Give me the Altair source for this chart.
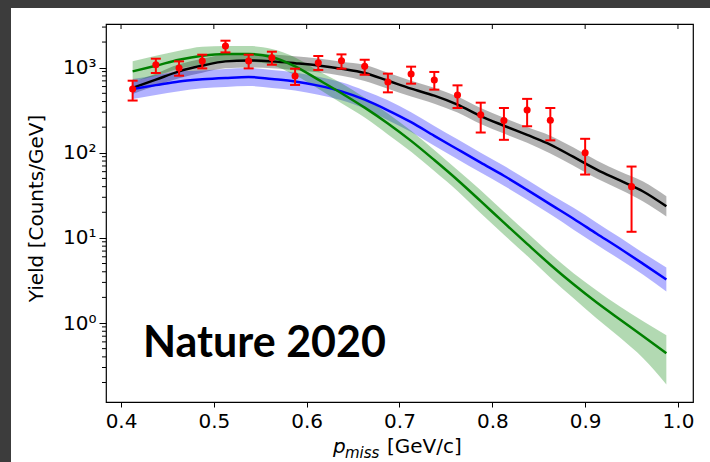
import altair as alt
import pandas as pd

# ---- measured data points (red) ----
x_data = [0.4125, 0.4375, 0.4625, 0.4875, 0.5125, 0.5375, 0.5625, 0.5875, 0.6125, 0.6375,
          0.6625, 0.6875, 0.7125, 0.7375, 0.7625, 0.7875, 0.8125, 0.8375, 0.8625, 0.9, 0.95]
y_data = [562, 1084, 992, 1199, 1798, 1199, 1310, 799, 1145, 1208,
          1036, 679, 844, 718, 478, 279, 239, 319, 241, 99.8, 40]
y_lo = [411, 866, 805, 981, 1513, 981, 1084, 627, 940, 973,
        828, 513, 649, 552, 336, 173, 142, 205, 140, 55.5, 11.8]
y_hi = [703, 1275, 1186, 1421, 2075, 1421, 1541, 973, 1372, 1433,
        1241, 851, 1028, 891, 620, 388, 336, 430, 336, 146, 68.9]

# ---- model curves ----
x_curve = [0.4125, 0.4375, 0.4625, 0.4875, 0.5125, 0.5375, 0.5625, 0.5875, 0.6125, 0.6375,
           0.6625, 0.6875, 0.7125, 0.7375, 0.7625, 0.7875, 0.8125, 0.8375, 0.8625, 0.8875,
           0.9125, 0.9375, 0.9625, 0.9875]
black_mid = [578, 723, 906, 1055, 1186, 1218, 1186, 1129, 1064, 973,
             867, 703, 567, 469, 368, 270, 208, 162, 125, 89.3,
             63.5, 47.3, 35.1, 23.5]
black_lo = [491, 615, 750, 873, 982, 1008, 982, 935, 881, 805,
            699, 566, 457, 378, 297, 218, 168, 131, 98, 70.6,
            49.8, 37.1, 26.8, 17.9]
black_hi = [680, 850, 1094, 1274, 1433, 1471, 1433, 1364, 1285, 1175,
            1076, 872, 704, 582, 457, 335, 258, 201, 159, 115,
            81, 60.3, 46, 30.8]
blue_mid = [562, 624, 690, 729, 757, 778, 736, 690, 615, 527,
            421, 316, 229, 158, 110, 76.7, 53.7, 36.7, 24.8, 16.8,
            11.2, 7.5, 4.95, 3.25]
blue_lo = [429, 476, 527, 572, 594, 610, 577, 541, 482, 413,
           330, 241, 175, 121, 84, 58.5, 41, 28, 18.9, 12.5,
           8.32, 5.57, 3.68, 2.35]
blue_hi = [736, 817, 904, 929, 965, 992, 938, 880, 784, 672,
           537, 414, 300, 207, 144, 100, 70.3, 48.1, 32.5, 22.6,
           15.1, 10.1, 6.66, 4.49]
green_mid = [905, 1055, 1241, 1384, 1449, 1449, 1336, 1036, 723, 501,
             339, 221, 138, 82.2, 47.9, 27, 15.1, 8.51, 4.84, 2.85,
             1.74, 1.10, 0.70, 0.44]
green_lo = [691, 805, 973, 1085, 1168, 1168, 1077, 813, 567, 382,
            259, 164, 103, 61.1, 35.6, 19.5, 10.9, 6.15, 3.41, 1.95,
            1.13, 0.676, 0.386, 0.19]
green_hi = [1186, 1382, 1582, 1765, 1798, 1798, 1658, 1321, 922, 656,
            444, 290, 181, 108, 62.7, 36.3, 20.3, 11.5, 6.51, 3.84,
            2.41, 1.56, 1.05, 0.716]

# ---- axes ----
x_ticks = [0.4, 0.5, 0.6, 0.7, 0.8, 0.9, 1.0]
y_major = [1, 10, 100, 1000]
y_minor = [0.2, 0.3, 0.4, 0.5, 0.6, 0.7, 0.8, 0.9,
           2, 3, 4, 5, 6, 7, 8, 9,
           20, 30, 40, 50, 60, 70, 80, 90,
           200, 300, 400, 500, 600, 700, 800, 900,
           2000, 3000]

W, H = 587, 378
FONT = "DejaVu Sans"

xs = alt.Scale(domain=[0.3838, 1.0162], nice=False, zero=False)
ys = alt.Scale(type="log", domain=[0.118, 3260], nice=False)

ax_x = alt.Axis(
    values=x_ticks, format=".1f", title=None, grid=False, domain=False,
    labelFont=FONT, labelFontSize=20, labelColor="black", tickColor="black",
    tickSize=5, tickWidth=1, labelPadding=4, labelFlush=False, zindex=1)
ax_y = alt.Axis(
    values=y_major, grid=False, domain=False,
    labelExpr="datum.value == 1 ? '10⁰' : datum.value == 10 ? '10¹' : datum.value == 100 ? '10²' : '10³'",
    labelFont=FONT, labelFontSize=20, labelColor="black", tickColor="black",
    tickSize=7, tickWidth=1, labelPadding=3, labelFlush=False,
    title="Yield [Counts/GeV]", titleFont=FONT, titleFontSize=20, titleFontWeight="normal",
    titleColor="black", titleX=-64, titleY=184, titleAngle=270, titleAlign="center",
    titleBaseline="alphabetic", zindex=1)

def X(f):
    return alt.X(f, type="quantitative", scale=xs, axis=ax_x)

def Y(f):
    return alt.Y(f, type="quantitative", scale=ys, axis=ax_y)

pts = pd.DataFrame({"x": x_data, "y": y_data, "lo": y_lo, "hi": y_hi})

def curve_df(mid, lo, hi):
    return pd.DataFrame({"x": x_curve, "y": mid, "lo": lo, "hi": hi})

series = [
    (curve_df(black_mid, black_lo, black_hi), "#000000", "#808080", 0.6),
    (curve_df(blue_mid, blue_lo, blue_hi), "#0000ff", "#0000ff", 0.3),
    (curve_df(green_mid, green_lo, green_hi), "#008000", "#008000", 0.3),
]

layers = []
one = pd.DataFrame({"k": [0]})

# dark frame strips around the picture
layers.append(alt.Chart(one).mark_rect(color="#3c3c3c").encode(
    x=alt.value(-106), x2=alt.value(604), y=alt.value(-24), y2=alt.value(-16)))
layers.append(alt.Chart(one).mark_rect(color="#3c3c3c").encode(
    x=alt.value(-106), x2=alt.value(-95), y=alt.value(-24), y2=alt.value(438)))

for df, lc, bc, op in series:
    layers.append(alt.Chart(df).mark_area(color=bc, opacity=op, interpolate="monotone").encode(
        x=X("x"), y=Y("lo"), y2="hi"))
for df, lc, bc, op in series:
    layers.append(alt.Chart(df).mark_line(color=lc, strokeWidth=2.5, interpolate="monotone").encode(
        x=X("x"), y=Y("y")))

# error bars
layers.append(alt.Chart(pts).mark_rule(color="#ff0000", strokeWidth=2).encode(
    x=X("x"), y=Y("lo"), y2="hi"))
for col in ["lo", "hi"]:
    layers.append(alt.Chart(pts).mark_tick(color="#ff0000", orient="horizontal", size=10, thickness=2, opacity=1).encode(
        x=X("x"), y=Y(col)))

# points
layers.append(alt.Chart(pts).mark_circle(color="#ff0000", size=50, opacity=1).encode(
    x=X("x"), y=Y("y")))

# minor log ticks on the left
layers.append(alt.Chart(pd.DataFrame({"m": y_minor})).mark_rule(color="black", strokeWidth=1).encode(
    y=Y("m"), x=alt.value(-4), x2=alt.value(0)))

# inward ticks on the top spine
layers.append(alt.Chart(pd.DataFrame({"t": x_ticks})).mark_rule(color="black", strokeWidth=1).encode(
    x=X("t"), y=alt.value(0), y2=alt.value(5)))

# x-axis title: p_miss [GeV/c]
layers.append(alt.Chart(one).mark_text(text="p", font=FONT, fontSize=20, fontStyle="italic",
                                       align="left", baseline="alphabetic", color="black").encode(
    x=alt.value(227), y=alt.value(429)))
layers.append(alt.Chart(one).mark_text(text="miss", font=FONT, fontSize=15, fontStyle="italic",
                                       align="left", baseline="alphabetic", color="black").encode(
    x=alt.value(239), y=alt.value(434)))
layers.append(alt.Chart(one).mark_text(text="[GeV/c]", font=FONT, fontSize=20,
                                       align="left", baseline="alphabetic", color="black").encode(
    x=alt.value(281), y=alt.value(429)))

# annotation
layers.append(alt.Chart(one).mark_text(text="Nature 2020", font="Lato", fontSize=43, fontWeight="bold",
                                       align="left", baseline="alphabetic", color="black").encode(
    x=alt.value(37), y=alt.value(333)))

chart = alt.layer(*layers).properties(
    width=W, height=H,
    autosize=alt.AutoSizeParams(type="none"),
    padding={"left": 106, "top": 24, "right": 17, "bottom": 60},
    background="white",
).configure_view(stroke="black", strokeWidth=1.2)

chart.save("out.html", embed_options={"renderer": "svg", "actions": False})
